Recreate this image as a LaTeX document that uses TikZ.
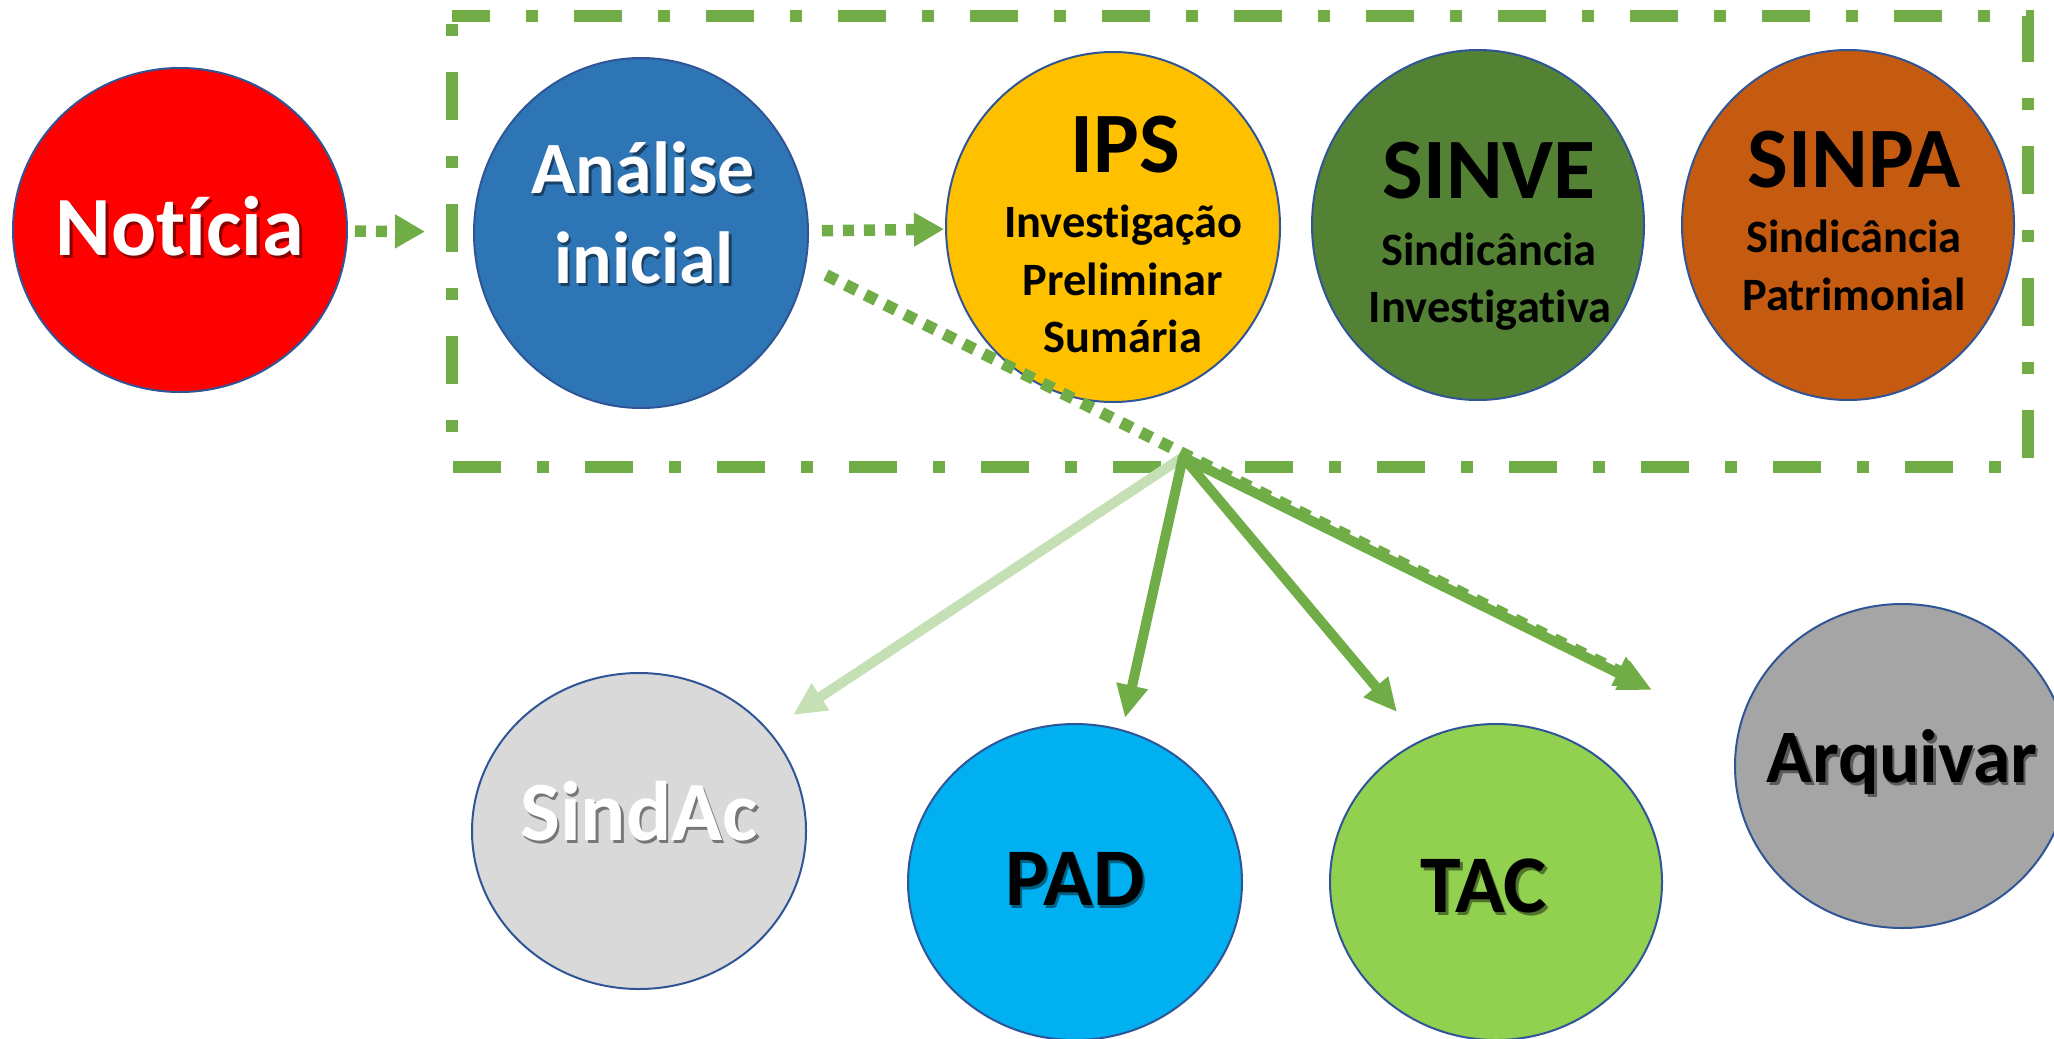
\documentclass[tikz,border=0pt]{standalone}
\usepackage{fontspec}
\setmainfont{Carlito}[Ligatures=CommonOff]
\usetikzlibrary{arrows.meta,shapes.geometric}
\definecolor{cred}{HTML}{FF0000}
\definecolor{cana}{HTML}{2E75B6}
\definecolor{cips}{HTML}{FFC000}
\definecolor{csinve}{HTML}{548235}
\definecolor{csinpa}{HTML}{C55A11}
\definecolor{csind}{HTML}{D9D9D9}
\definecolor{cpad}{HTML}{00B0F0}
\definecolor{ctac}{HTML}{92D050}
\definecolor{carq}{HTML}{A5A5A5}
\definecolor{outl}{HTML}{2F5597}
\definecolor{grn}{HTML}{70AD47}
\definecolor{lgrn}{HTML}{C5E0B4}
\tikzset{
  blob/.style={ellipse, draw=outl, line width=0.2mm, inner sep=0pt,
    minimum width=33.4mm, minimum height=35mm},
  ttl/.style={anchor=base, inner sep=0pt, font=\bfseries\fontsize{#1pt}{#1pt}\selectfont},
  shd/.style={text=black, text opacity=0.45},
  dotarrow/.style={draw=grn, line width=1.15mm, dash pattern=on 1.1mm off 1mm,
    -{Triangle[length=3mm,width=3.2mm]}},
  solarrow/.style={draw=grn, line width=1mm, -{Triangle[length=3.3mm,width=3mm]}},
  frame/.style={draw=grn, line width=1.2mm,
    dash pattern=on 4.8mm off 3.6mm on 1.2mm off 3.6mm, dash phase=1mm},
}
\begin{document}
\begin{tikzpicture}[x=0.1mm,y=-0.1mm]
\useasboundingbox (0,0) rectangle (2054,1038);
% frame
\draw[frame] (452,16) -- (2028,16) -- (2028,467) -- (452,467) -- cycle;
% ellipses
\node[blob, fill=cred, minimum height=32.4mm] (noticia) at (180,230) {};
\node[blob, fill=cana] (analise) at (641,233) {};
\node[blob, fill=cips] (ips) at (1113,227) {};
\node[blob, fill=csinve, minimum width=33.2mm] (sinve) at (1478,225) {};
\node[blob, fill=csinpa, minimum width=33.2mm] (sinpa) at (1848,225) {};
\node[blob, fill=csind, minimum height=31.6mm] (sindac) at (639,831) {};
\node[blob, fill=cpad, minimum height=31.6mm] (pad) at (1075,882) {};
\node[blob, fill=ctac, minimum width=33.2mm, minimum height=31.6mm] (tac) at (1496,882) {};
\node[blob, fill=carq, minimum height=32.4mm] (arq) at (1902,766) {};
% texts
\node[ttl=24, shd] (noticiaS) at (182.5,258) {Notícia};
\node[ttl=24, text=white] (noticiaT) at (180,255) {Notícia};
\node[ttl=21, shd] (analiseS1) at (645.5,196) {Análise};
\node[ttl=21, text=white] (analiseT1) at (643,193) {Análise};
\node[ttl=21, shd] (analiseS2) at (646.5,286) {inicial};
\node[ttl=21, text=white] (analiseT2) at (644,283) {inicial};
\node[ttl=24.5] (ipsT) at (1125,172) {IPS};
\node[ttl=13.2] (ipsL1) at (1123,237) {Investigação};
\node[ttl=13.2] (ipsL2) at (1123,295) {Preliminar};
\node[ttl=13.2] (ipsL3) at (1123,352) {Sumária};
\node[ttl=24.5] (sinveT) at (1489,198) {SINVE};
\node[ttl=13.2] (sinveL1) at (1489,265) {Sindicância};
\node[ttl=13.2] (sinveL2) at (1490,322) {Investigativa};
\node[ttl=24.5] (sinpaT) at (1854,187) {SINPA};
\node[ttl=13.2] (sinpaL1) at (1854,252) {Sindicância};
\node[ttl=13.2] (sinpaL2) at (1854,310) {Patrimonial};
\node[ttl=24, shd] (sindacS) at (641.5,843) {SindAc};
\node[ttl=24, text=white] (sindacT) at (639,840) {SindAc};
\node[ttl=23.3, shd] (padS) at (1077.5,908) {PAD};
\node[ttl=23.3] (padT) at (1075,905) {PAD};
\node[ttl=23.3, shd] (tacS) at (1486.5,915) {TAC};
\node[ttl=23.3] (tacT) at (1484,912) {TAC};
\node[ttl=21.5, shd] (arqS) at (1904.5,785) {Arquivar};
\node[ttl=21.5] (arqT) at (1902,782) {Arquivar};
% connectors
\draw[dotarrow, shorten <=0.7mm, shorten >=4.8mm] (noticia) -- (analise);
\draw[dotarrow, shorten <=1.3mm, shorten >=0.1mm] (analise) -- (ips);
\coordinate (dstart) at (826,275);
\coordinate (dend) at (1648,686);
\coordinate (hub) at (1183,457);
\coordinate (tSind) at (793,715);
\coordinate (tPad) at (1125,718);
\coordinate (tTac) at (1397,712);
\coordinate (tArq) at (1652,690);
\draw[solarrow, draw=lgrn] (hub) -- (tSind);
\draw[solarrow] (hub) -- (tPad);
\draw[solarrow] (hub) -- (tTac);
\draw[solarrow] (hub) -- (tArq);
\draw[dotarrow, line width=1.2mm, dash pattern=on 1.2mm off 1mm,
  -{Triangle[length=3.3mm,width=3mm]}] (dstart) -- (dend);
\end{tikzpicture}
\end{document}
